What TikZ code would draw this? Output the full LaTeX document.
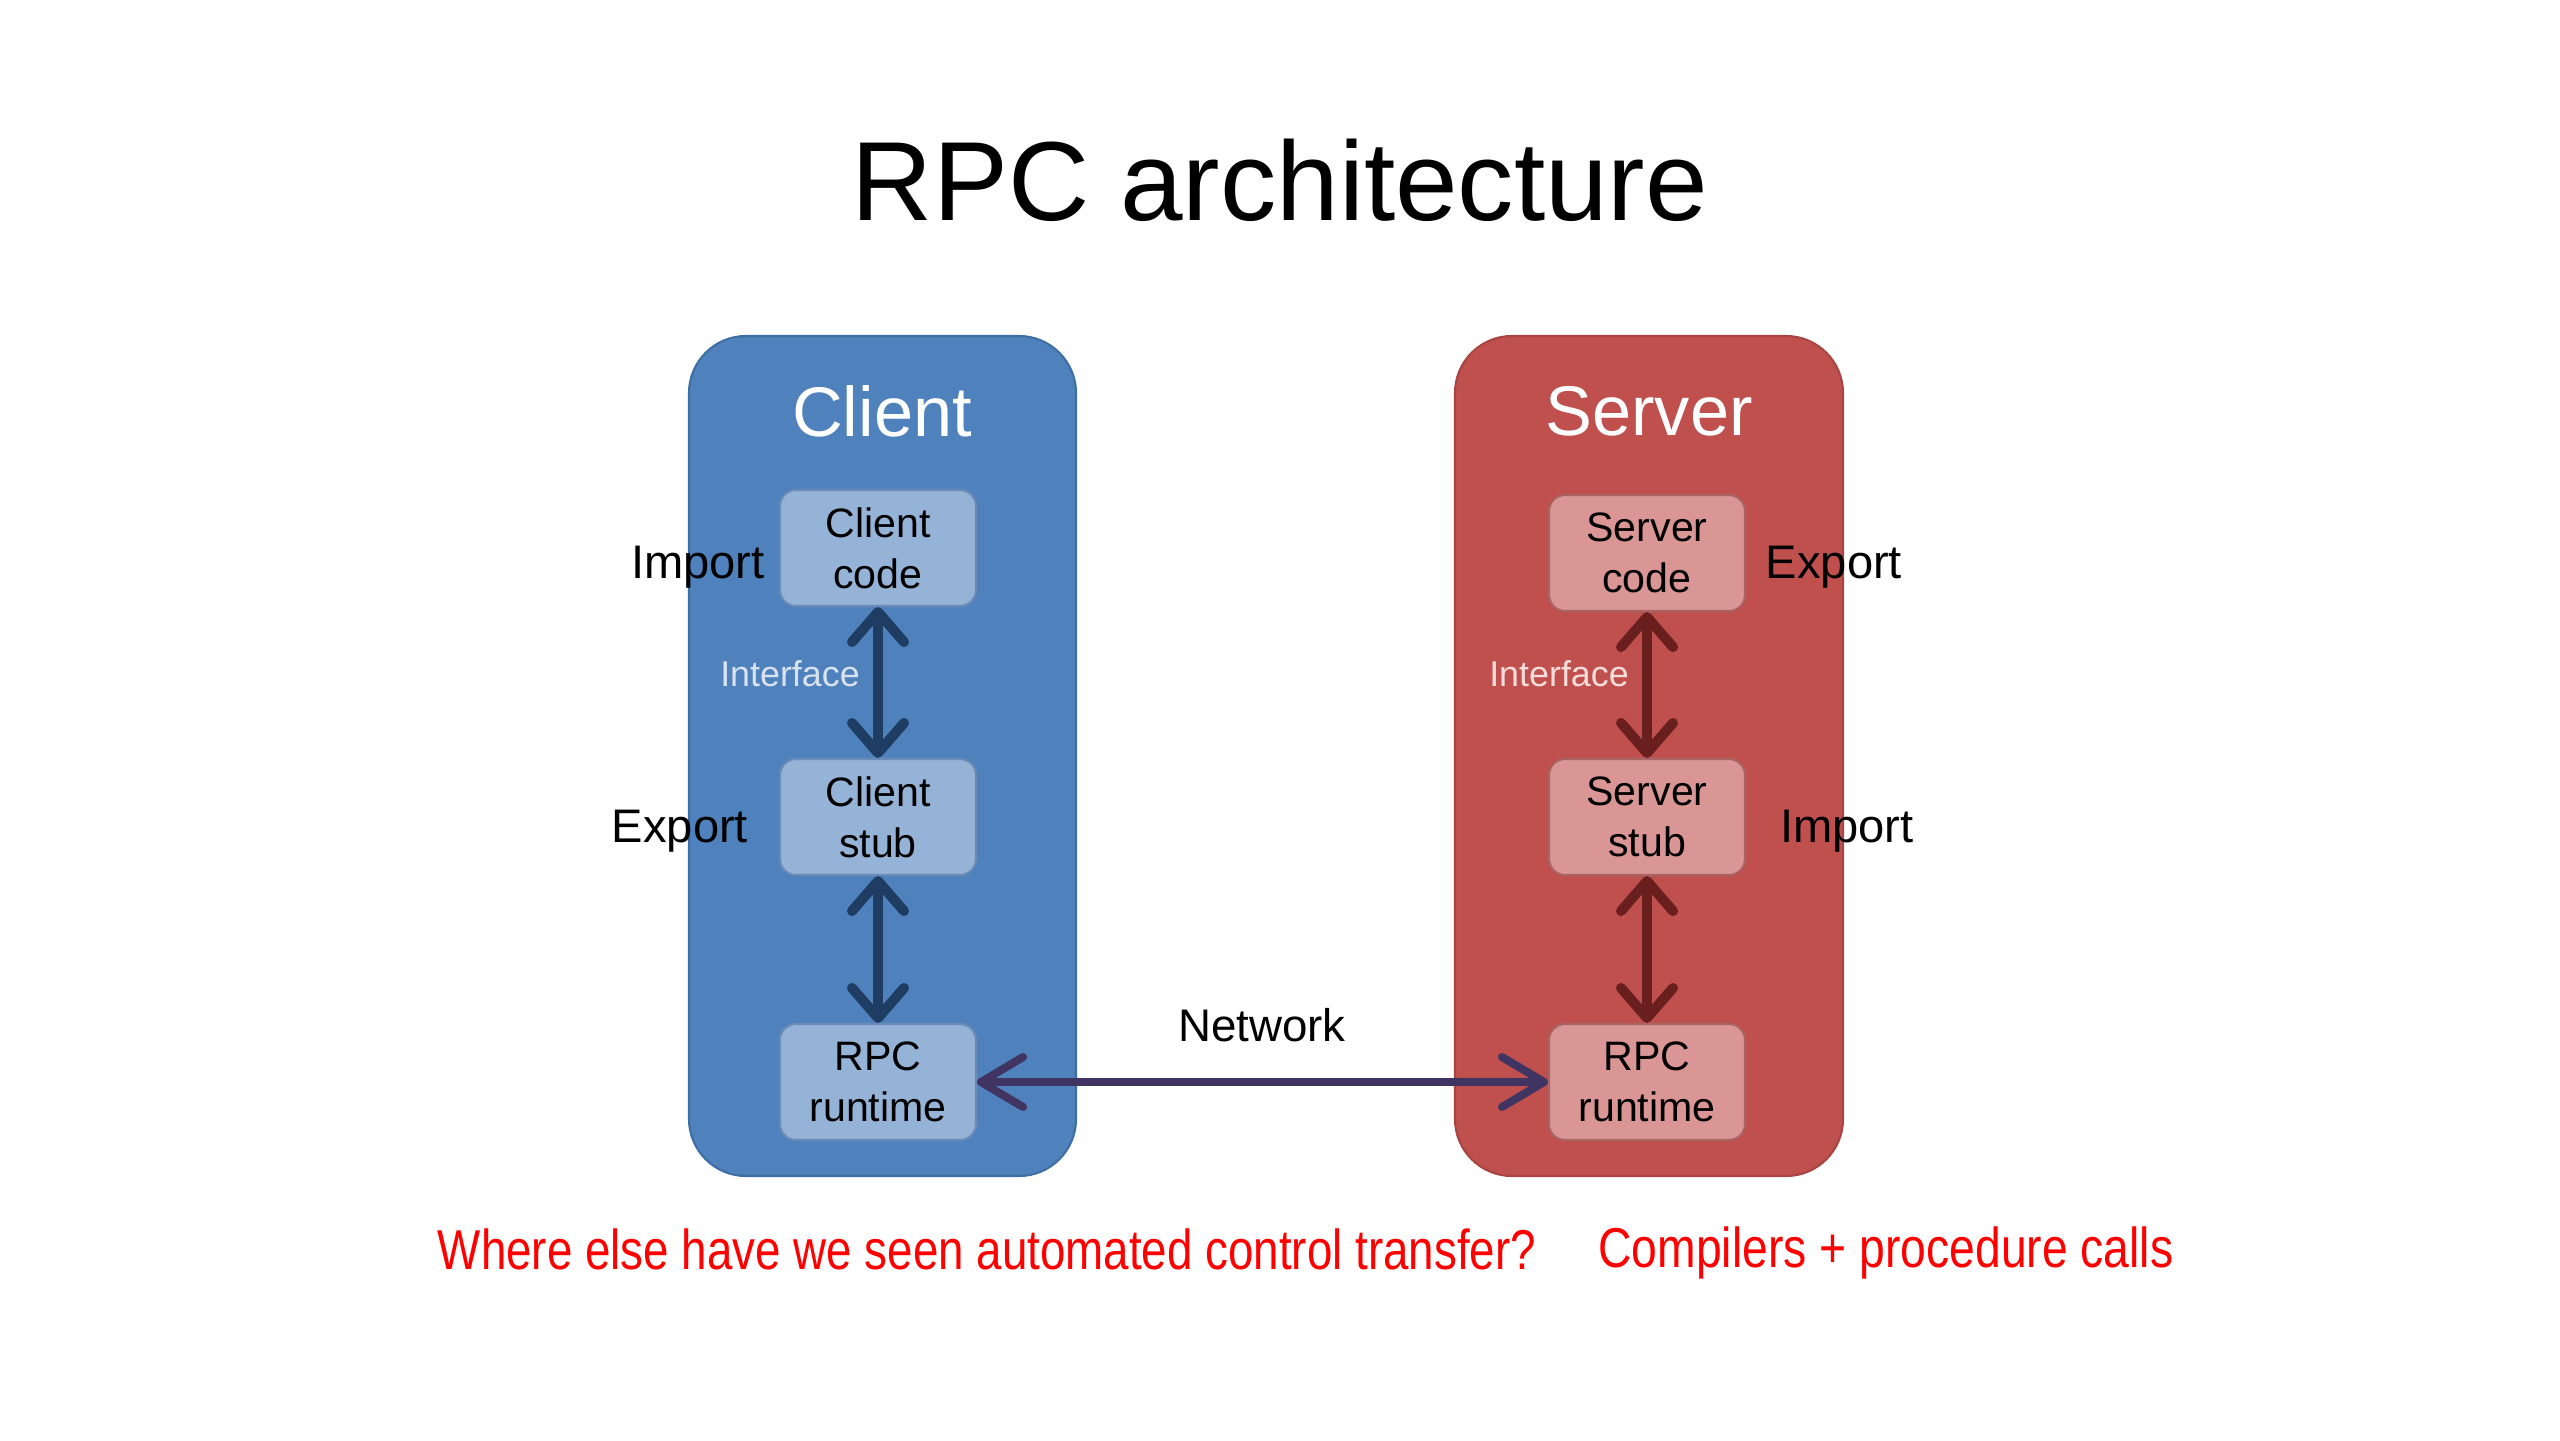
\documentclass[tikz,border=0pt]{standalone}
\usepackage{fontspec}
\setmainfont{Liberation Sans}
\usetikzlibrary{arrows.meta}
\definecolor{cfill}{HTML}{4F81BD}
\definecolor{cborder}{HTML}{3F6EA5}
\definecolor{cinner}{HTML}{95B3D7}
\definecolor{cinnerb}{HTML}{6A8BB5}
\definecolor{carrow}{HTML}{1F3C62}
\definecolor{sfill}{HTML}{C0504D}
\definecolor{sborder}{HTML}{A84441}
\definecolor{sinner}{HTML}{D99694}
\definecolor{sinnerb}{HTML}{A86462}
\definecolor{sarrow}{HTML}{6A1F1F}
\definecolor{netarrow}{HTML}{3F3462}
\definecolor{cint}{HTML}{D9E3F0}
\definecolor{sint}{HTML}{F4DCDB}
\definecolor{qred}{HTML}{FF0000}
\tikzset{
  outerbox/.style={rounded corners=0.57cm, line width=0.6pt},
  innerbox/.style={rounded corners=0.16cm, line width=0.6pt, minimum width=1.96cm, minimum height=1.16cm, align=center, inner sep=0pt, font=\fontsize{11.7}{14.5}\selectfont},
  sidelabel/.style={font=\fontsize{13.4}{16}\selectfont, inner sep=0pt},
  intlabel/.style={font=\fontsize{10.2}{12}\selectfont, inner sep=0pt},
  boxtitle/.style={font=\fontsize{20}{24}\selectfont, text=white, inner sep=0pt},
  varrow/.style={line width=0.1cm, {Straight Barb[length=0.3cm,width=0.52cm,round]}-{Straight Barb[length=0.3cm,width=0.52cm,round]}},
}
\begin{document}
\begin{tikzpicture}
\useasboundingbox (0,0) rectangle (25.6,-14.4);
\fill[white] (0,0) rectangle (25.6,-14.4);
% title
\node[inner sep=0pt, font=\fontsize{32}{38}\selectfont] (title) at (12.80,-1.80) {RPC architecture};
% outer boxes
\draw[outerbox, fill=cfill, draw=cborder] (6.89,-3.36) rectangle (10.76,-11.76);
\draw[outerbox, fill=sfill, draw=sborder] (14.55,-3.36) rectangle (18.43,-11.76);
\node[boxtitle] (ctitle) at (8.82,-4.11) {Client};
\node[boxtitle] (stitle) at (16.49,-4.11) {Server};
% inner boxes
\node[innerbox, fill=cinner, draw=cinnerb] (cc) at (8.78,-5.48) {Client\\code};
\node[innerbox, fill=cinner, draw=cinnerb] (cs) at (8.78,-8.17) {Client\\stub};
\node[innerbox, fill=cinner, draw=cinnerb] (cr) at (8.78,-10.82) {RPC\\runtime};
\node[innerbox, fill=sinner, draw=sinnerb] (sc) at (16.47,-5.53) {Server\\code};
\node[innerbox, fill=sinner, draw=sinnerb] (ss) at (16.47,-8.17) {Server\\stub};
\node[innerbox, fill=sinner, draw=sinnerb] (sr) at (16.47,-10.82) {RPC\\runtime};
% vertical arrows
\draw[varrow, draw=carrow] (cc.south) -- (cs.north);
\draw[varrow, draw=carrow] (cs.south) -- (cr.north);
\draw[varrow, draw=sarrow] (sc.south) -- (ss.north);
\draw[varrow, draw=sarrow] (ss.south) -- (sr.north);
% labels
\node[intlabel, text=cint] (cint) at (7.90,-6.74) {Interface};
\node[intlabel, text=sint] (sint) at (15.59,-6.74) {Interface};
\node[sidelabel] (cimp) at (6.98,-5.67) {Import};
\node[sidelabel] (cexp) at (6.80,-8.31) {Export};
\node[sidelabel] (sexp) at (18.34,-5.67) {Export};
\node[sidelabel] (simp) at (18.47,-8.31) {Import};
% network
\draw[line width=0.08cm, draw=netarrow, {Straight Barb[length=0.42cm,width=0.5cm,round]}-{Straight Barb[length=0.42cm,width=0.5cm,round]}] (cr.east) -- (sr.west);
\node[sidelabel, font=\fontsize{13}{16}\selectfont] (net) at (12.62,-10.25) {Network};
% bottom question
\node[inner sep=0pt, text=qred] (q) at (9.87,-12.49) {\resizebox{10.98cm}{\height}{\fontsize{16}{19}\selectfont Where else have we seen automated control transfer?}};
\node[inner sep=0pt, text=qred] (a) at (18.86,-12.53) {\resizebox{5.75cm}{\height}{\fontsize{16}{19}\selectfont Compilers + procedure calls}};
\end{tikzpicture}
\end{document}
